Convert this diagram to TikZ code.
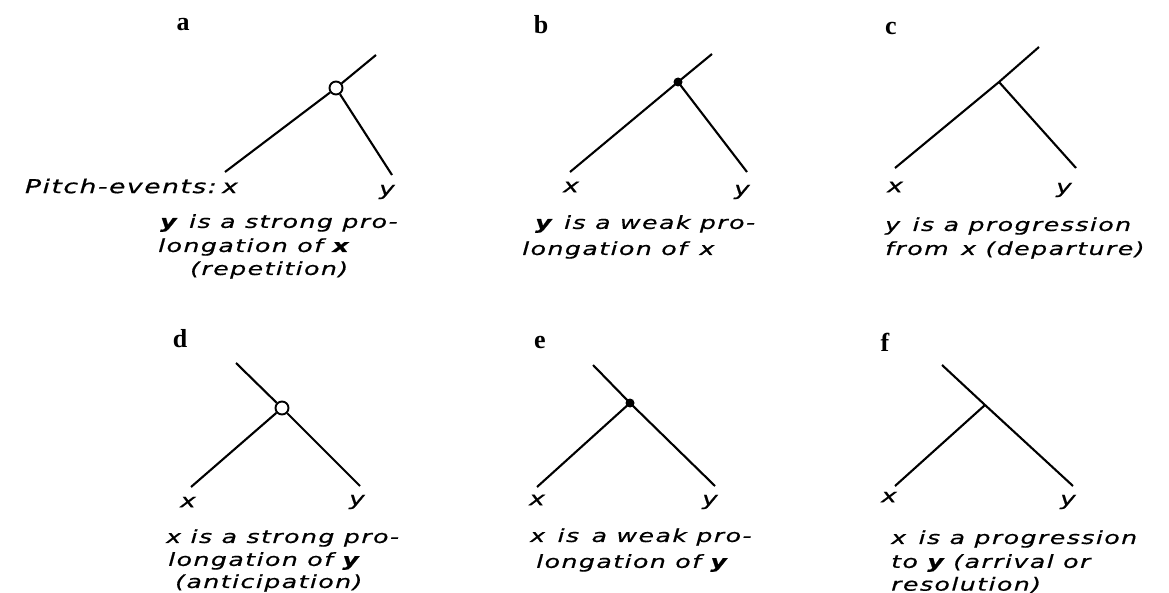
\documentclass[tikz,border=0pt]{standalone}
\usepackage{fontspec}
\newfontfamily\hand{DejaVu Sans}[LetterSpace=8,FakeStretch=1.4,FakeBold=0.6]
\newfontfamily\labelfont{Liberation Serif}
\begin{document}
\begin{tikzpicture}[x=1pt,y=-1pt,
  br/.style={line width=2.1pt},
  opencirc/.style={circle,draw,line width=1.9pt,fill=white,minimum size=13pt,inner sep=0pt},
  fullcirc/.style={circle,fill=black,minimum size=9pt,inner sep=0pt},
  panellab/.style={font=\labelfont\bfseries\fontsize{26}{28}\selectfont},
  varlab/.style={font=\hand\itshape\fontsize{19}{20}\selectfont,inner sep=0pt},
  capt/.style={font=\hand\itshape\fontsize{18}{20}\selectfont,anchor=west,inner sep=0pt}]
\useasboundingbox (0,0) rectangle (1169,593);
% ---- a ----
\node[panellab] (la) at (183,25) {a};
\coordinate (ta) at (376,55);
\coordinate (xa) at (225,172);
\coordinate (ya) at (392,175);
\node[opencirc] (ja) at (336,88) {};
\draw[br] (ta) -- (ja) (ja) -- (xa) (ja) -- (ya);
\node[varlab,anchor=east] (pe) at (238,186) {Pitch-events:\;x};
\node[varlab] (vya) at (387,192) {y};
\node[capt] (ca1) at (160,223) {\textbf{y}\, is a strong pro-};
\node[capt] (ca2) at (158,247) {longation of \textbf{x}};
\node[capt] (ca3) at (190,270) {(repetition)};
% ---- b ----
\node[panellab] (lb) at (541,25) {b};
\coordinate (tb) at (712,54);
\coordinate (xb) at (570,172);
\coordinate (yb) at (747,172);
\node[fullcirc] (jb) at (678,82) {};
\draw[br] (tb) -- (jb.center) -- (xb) (jb.center) -- (yb);
\node[varlab] (vxb) at (571,187) {x};
\node[varlab] (vyb) at (742,192) {y};
\node[capt] (cb1) at (535,224) {\textbf{y}\, is a weak pro-};
\node[capt] (cb2) at (522,250) {longation of\, x};
% ---- c ----
\node[panellab] (lc) at (891,28) {c};
\coordinate (tc) at (1039,47);
\coordinate (xc) at (895,168);
\coordinate (yc) at (1076,168);
\coordinate (jc) at (999,82);
\draw[br] (tc) -- (jc) -- (xc) (jc) -- (yc);
\node[varlab] (vxc) at (895,187) {x};
\node[varlab] (vyc) at (1064,190) {y};
\node[capt] (cc1) at (885,226) {y\, is a progression};
\node[capt] (cc2) at (885,250) {from\, x (departure)};
% ---- d ----
\node[panellab] (ld) at (180,339) {d};
\coordinate (td) at (236,363);
\coordinate (xd) at (191,487);
\coordinate (yd) at (360,486);
\node[opencirc] (jd) at (282,408) {};
\draw[br] (td) -- (jd) (jd) -- (xd) (jd) -- (yd);
\node[varlab] (vxd) at (188,502) {x};
\node[varlab] (vyd) at (357,502) {y};
\node[capt] (cd1) at (166,538) {x is a strong pro-};
\node[capt] (cd2) at (168,561) {longation of \textbf{y}};
\node[capt] (cd3) at (175,583) {(anticipation)};
% ---- e ----
\node[panellab] (le) at (540,343) {e};
\coordinate (te) at (593,365);
\coordinate (xe) at (537,487);
\coordinate (ye) at (715,486);
\node[fullcirc] (je) at (630,403) {};
\draw[br] (te) -- (je.center) -- (ye) (je.center) -- (xe);
\node[varlab] (vxe) at (537,500) {x};
\node[varlab] (vye) at (710,502) {y};
\node[capt] (ce1) at (530,537) {x\, is\, a weak pro-};
\node[capt] (ce2) at (536,563) {longation of \textbf{y}};
% ---- f ----
\node[panellab] (lf) at (885,342) {f};
\coordinate (tf) at (942,365);
\coordinate (xf) at (895,486);
\coordinate (yf) at (1073,486);
\coordinate (jf) at (985,405);
\draw[br] (tf) -- (jf) -- (yf) (jf) -- (xf);
\node[varlab] (vxf) at (889,497) {x};
\node[varlab] (vyf) at (1068,502) {y};
\node[capt] (cf1) at (891,539) {x\, is a progression};
\node[capt] (cf2) at (891,563) {to \textbf{y} (arrival or};
\node[capt] (cf3) at (891,585) {resolution)};
\end{tikzpicture}
\end{document}
